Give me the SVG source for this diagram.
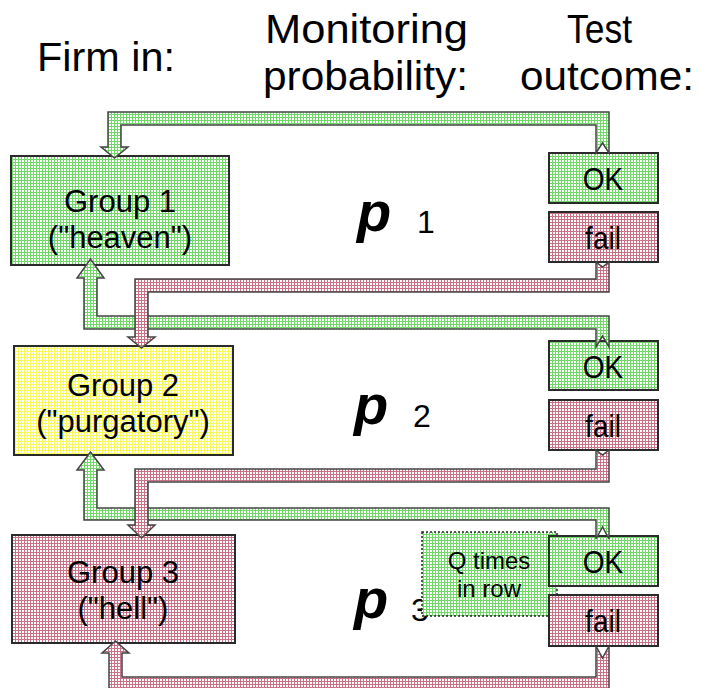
<svg xmlns="http://www.w3.org/2000/svg" width="705" height="688" viewBox="0 0 705 688">
  <defs>
    <pattern id="dotGreen" patternUnits="userSpaceOnUse" width="3" height="3">
      <rect width="3" height="3" fill="#ffffff"/>
      <rect width="1" height="3" fill="#6fd866"/>
      <rect width="3" height="1" fill="#6fd866"/>
    </pattern>
    <pattern id="dotYellow" patternUnits="userSpaceOnUse" width="3" height="3">
      <rect width="3" height="3" fill="#ffffff"/>
      <rect width="1" height="3" fill="#fafa55"/>
      <rect width="3" height="1" fill="#fafa55"/>
    </pattern>
    <pattern id="dotRed" patternUnits="userSpaceOnUse" width="3" height="3">
      <rect width="3" height="3" fill="#ffffff"/>
      <rect width="1" height="3" fill="#cc7088"/>
      <rect width="3" height="1" fill="#cc7088"/>
    </pattern>
  </defs>
  <style>
    text { font-family: "Liberation Sans", Arial, sans-serif; fill: #000; }
    .head { font-size: 36px; }
    .grp { font-size: 31px; text-anchor: middle; }
    .res { font-size: 28px; text-anchor: middle; }
    .q { font-size: 24px; text-anchor: middle; }
    .p { font-size: 56px; font-style: italic; font-weight: bold; }
    .sub { font-size: 32px; }
    .box { stroke: #2a2a2a; stroke-width: 2; }
    .green { fill: url(#dotGreen); }
    .yellow { fill: url(#dotYellow); }
    .red { fill: url(#dotRed); }
    .conn path { stroke: #444; stroke-width: 1.5; stroke-linejoin: miter; }
    .dotted { stroke: #222; stroke-width: 1.5; stroke-dasharray: 2 2; }
  </style>

  <!-- column headings (tall, slightly condensed lettering) -->
  <g id="headings">
    <text class="head" transform="translate(37,71) scale(1,1.12)" textLength="138" lengthAdjust="spacingAndGlyphs">Firm in:</text>
    <text class="head" transform="translate(265,43) scale(1,1.12)" textLength="203" lengthAdjust="spacingAndGlyphs">Monitoring</text>
    <text class="head" transform="translate(263,90) scale(1,1.12)" textLength="205" lengthAdjust="spacingAndGlyphs">probability:</text>
    <text class="head" transform="translate(567,43) scale(1,1.12)" textLength="65" lengthAdjust="spacingAndGlyphs">Test</text>
    <text class="head" transform="translate(520,90) scale(1,1.12)" textLength="174" lengthAdjust="spacingAndGlyphs">outcome:</text>
  </g>

  <!-- groups -->
  <g id="group1">
    <rect class="box green" x="11" y="156" width="218" height="109"/>
    <text class="grp" x="120" y="212">Group 1</text>
    <text class="grp" x="120" y="248">("heaven")</text>
  </g>
  <g id="group2">
    <rect class="box yellow" x="14" y="346" width="219" height="109"/>
    <text class="grp" x="123" y="396">Group 2</text>
    <text class="grp" x="123" y="432">("purgatory")</text>
  </g>
  <g id="group3">
    <rect class="box red" x="12" y="535" width="223" height="108"/>
    <text class="grp" x="123" y="583">Group 3</text>
    <text class="grp" x="123" y="619">("hell")</text>
  </g>

  <!-- monitoring probabilities -->
  <g id="prob1"><text class="p" x="357" y="231">p</text><text class="sub" x="417" y="233">1</text></g>
  <g id="prob2"><text class="p" x="354" y="424">p</text><text class="sub" x="413" y="427">2</text></g>
  <g id="prob3"><text class="p" x="354" y="618">p</text><text class="sub" x="411" y="621">3</text></g>

  <!-- streak condition -->
  <g id="streak">
    <rect class="green dotted" x="422" y="532" width="135" height="84"/>
    <text class="q" x="489" y="569">Q times</text>
    <text class="q" x="489" y="597">in row</text>
  </g>

  <!-- test outcomes -->
  <g id="ok1"><rect class="box green" x="549" y="153" width="109" height="50"/><text class="res" transform="translate(603,190) scale(1,1.15)">OK</text></g>
  <g id="fail1"><rect class="box red" x="549" y="212" width="109" height="50"/><text class="res" transform="translate(603,249) scale(1,1.15)">fail</text></g>
  <g id="ok2"><rect class="box green" x="549" y="341" width="109" height="49"/><text class="res" transform="translate(603,378) scale(1,1.15)">OK</text></g>
  <g id="fail2"><rect class="box red" x="549" y="400" width="109" height="50"/><text class="res" transform="translate(603,437) scale(1,1.15)">fail</text></g>
  <g id="ok3"><rect class="box green" x="549" y="536" width="109" height="50"/><text class="res" transform="translate(603,573) scale(1,1.15)">OK</text></g>
  <g id="fail3"><rect class="box red" x="549" y="595" width="109" height="51"/><text class="res" transform="translate(603,632) scale(1,1.15)">fail</text></g>

  <!-- transitions: block arrows with notched tails -->
  <g id="connectors" class="conn">
    <path class="green" d="M596,153 L596,125 L121,125 L121,147 L128,147 L114.5,158 L101,147 L108,147 L108,112 L609,112 L609,153 L602.5,143 Z"/>
    <path class="green" d="M84,329 L84,278 L77,278 L90.5,259 L104,278 L97,278 L97,316 L609,316 L609,347 L602.5,336 L596,347 L596,329 Z"/>
    <path class="red" d="M596,262 L602.5,267 L609,262 L609,292 L148,292 L148,337 L155,337 L141.5,348 L128,337 L135,337 L135,279 L596,279 Z"/>
    <path class="green" d="M84,520 L84,470 L77,470 L90.5,452 L104,470 L97,470 L97,508 L609,508 L609,539 L602.5,527 L596,539 L596,520 Z"/>
    <path class="red" d="M596,450 L602.5,455 L609,450 L609,482 L148,482 L148,525 L155,525 L141.5,538 L128,525 L135,525 L135,469 L596,469 Z"/>
    <path class="red" d="M596,646 L602.5,658 L609,646 L609,695 L109,695 L109,653 L102,653 L115.5,641 L129,653 L122,653 L122,677 L596,677 Z"/>
  </g>
</svg>
